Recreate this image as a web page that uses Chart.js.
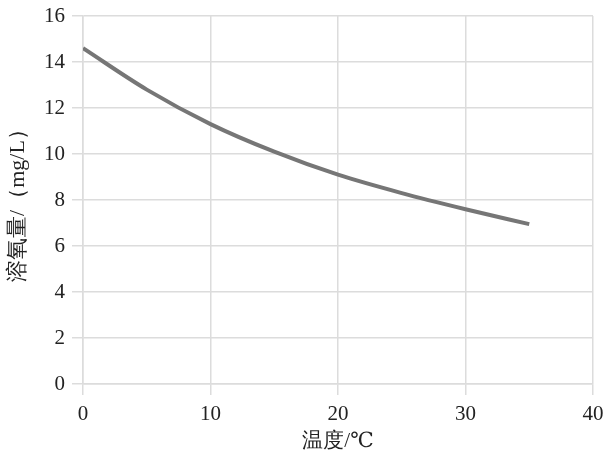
<!DOCTYPE html>
<html>
<head>
<meta charset="utf-8">
<script src="https://cdn.jsdelivr.net/npm/chart.js@4"></script>
<style>
  html, body { margin: 0; padding: 0; background: #fff; }
  #wrap { width: 610px; height: 457px; }
</style>
</head>
<body>
<div id="wrap"><canvas id="chart"></canvas></div>
<script>
const temperatures = [0, 5, 10, 15, 20, 25, 30, 35];
const oxygen = [14.6, 12.8, 11.3, 10.1, 9.1, 8.3, 7.6, 6.95];
const xTicks = [0, 10, 20, 30, 40];
const yTicks = [0, 2, 4, 6, 8, 10, 12, 14, 16];

const serif = '"Liberation Serif", "DejaVu Serif", serif';
const gridColor = '#dcdcdc';

new Chart(document.getElementById('chart'), {
  type: 'line',
  data: {
    datasets: [{
      data: temperatures.map((t, i) => ({ x: t, y: oxygen[i] })),
      borderColor: '#767676',
      borderWidth: 4,
      pointRadius: 0,
      fill: false,
      cubicInterpolationMode: 'monotone'
    }]
  },
  options: {
    responsive: true,
    maintainAspectRatio: false,
    animation: false,
    layout: { padding: { left: 0, right: 17, top: 16, bottom: 0 } },
    plugins: { legend: { display: false }, tooltip: { enabled: false } },
    scales: {
      x: {
        type: 'linear',
        min: xTicks[0],
        max: xTicks[xTicks.length - 1],
        afterBuildTicks: s => { s.ticks = xTicks.map(v => ({ value: v })); },
        afterFit: s => { s.height = 73; s.paddingLeft = 0; s.paddingRight = 0; },
        grid: { color: gridColor, lineWidth: 1.5, tickLength: 11 },
        border: { color: gridColor, width: 1.5 },
        ticks: { color: '#222', font: { family: serif, size: 21 }, padding: 7, maxRotation: 0 },
        title: {
          display: true,
          text: '温度/℃',
          color: '#222',
          font: { family: serif, size: 21 },
          padding: { top: 2, bottom: 3 }
        }
      },
      y: {
        min: yTicks[0],
        max: yTicks[yTicks.length - 1],
        afterBuildTicks: s => { s.ticks = yTicks.map(v => ({ value: v })); },
        afterFit: s => { s.width = 83; s.paddingTop = 0; s.paddingBottom = 0; },
        grid: { color: gridColor, lineWidth: 1.5, tickLength: 11 },
        border: { color: gridColor, width: 1.5 },
        ticks: { color: '#222', font: { family: serif, size: 21 }, padding: 7 },
        title: {
          display: true,
          text: '溶氧量/（mg/L）',
          color: '#222',
          font: { family: serif, size: 22 },
          padding: { top: 5, bottom: 2 }
        }
      }
    }
  }
});
</script>
</body>
</html>
